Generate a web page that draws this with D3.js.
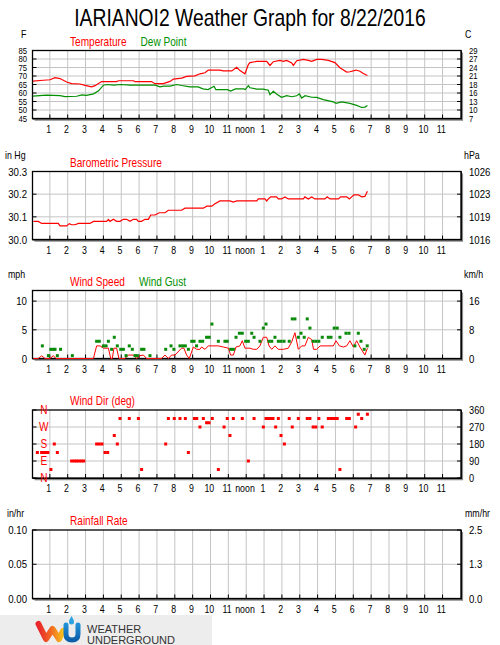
<!DOCTYPE html>
<html><head><meta charset="utf-8">
<script src="https://cdn.jsdelivr.net/npm/d3@7"></script>
<style>body{margin:0;background:#fff}svg{display:block}</style>
</head><body>
<script>
// ---------------- DATA ----------------
const title = "IARIANOI2 Weather Graph for 8/22/2016";
const hourTicks = [1,2,3,4,5,6,7,8,9,10,11,12,13,14,15,16,17,18,19,20,21,22,23];
const hourLabels = ["1","2","3","4","5","6","7","8","9","10","11","noon","1","2","3","4","5","6","7","8","9","10","11"];

const tempF = [85,80,75,70,65,60,55,50,45];
const tempC = ["29","27","24","21","18","16","13","10","7"];
const tempTimes = [0.05,0.63,1.01,1.29,1.57,1.94,2.22,2.69,2.97,3.34,3.53,3.9,4.74,4.84,5.68,5.77,6.7,6.89,7.36,7.73,7.92,8.38,8.66,9.13,9.41,9.69,9.88,10.53,10.72,11.19,11.47,11.65,11.93,12.12,12.21,12.59,13.15,13.33,13.52,13.89,14.08,14.27,14.55,14.64,14.83,15.2,15.48,15.67,15.95,16.23,16.6,16.97,17.25,17.63,17.81,18.15,18.37,18.56,18.79];
const tempVals  = [67,67.5,67.8,69,68.5,66.5,65.5,65.3,64.5,63.6,64.3,66.7,66.7,67.2,67.2,66.7,66.7,65.5,65.5,66.8,68.2,68.8,69.8,70.1,71.3,71.9,73.5,73.5,73,73,75.1,73.2,71.3,76.7,77.9,78.6,78.6,76.2,78.4,79.2,78.6,79.2,77.7,76.2,79.0,79.8,79.2,78.6,79.8,79.8,79.2,77.9,74.9,72.3,72.5,73.5,72.8,71.5,70.3];
const dewTimes = [0.05,0.8,1.57,1.85,2.5,2.8,3.05,3.45,3.73,4.0,4.2,4.58,4.95,5.5,6.9,7.17,7.37,7.74,8.1,8.38,8.85,9.3,9.58,9.86,10.2,10.3,10.95,11.13,11.4,11.86,11.95,12.12,12.21,12.59,12.96,13.24,13.33,13.52,13.7,13.98,14.27,14.55,14.83,14.98,15.11,15.3,15.67,15.95,16.32,16.88,17.03,17.35,17.81,18.19,18.47,18.66,18.79];
const dewVals  = [58.2,58.8,58.4,57.9,58.1,58.9,58.6,59.5,61.3,64.6,65.0,64.6,65.0,64.6,64.6,63.6,64.0,64.0,65.0,64.4,63.6,63.6,62.4,62.0,64.0,62.0,62.0,61.1,62.4,62.4,62.0,64.3,63.1,62.3,62.3,61.6,59.0,61.0,59.4,57.5,58.4,57.8,58.4,59.5,57.0,58.4,57.5,57.4,56.1,54.8,53.9,54.8,53.9,52.7,51.5,51.7,52.6];

const baroTicks = [30.3,30.2,30.1,30.0];
const baroLabels = ["30.3","30.2","30.1","30.0"];
const hpaLabels = ["1026","1023","1019","1016"];
const baroTimes = [0.08,0.355,0.54,1.47,1.57,1.94,2.09,2.22,2.41,2.6,3.25,3.44,4.18,4.28,4.37,4.56,4.74,4.93,5.12,5.3,5.49,5.68,5.86,5.96,6.14,6.33,6.52,6.65,6.89,7.13,7.45,7.64,8.38,8.57,9.6,9.79,10.07,10.25,10.53,11.09,11.28,11.47,12.12,12.59,12.68,13.05,13.15,13.24,13.37,13.7,13.8,13.98,14.17,14.36,15.11,15.2,15.29,15.48,15.67,15.85,16.41,16.54,16.69,17.16,17.29,17.63,17.78,17.91,18.04,18.28,18.47,18.65,18.79];
const baroVals  = [30.08,30.08,30.071,30.071,30.06,30.06,30.07,30.065,30.065,30.071,30.071,30.08,30.08,30.089,30.08,30.089,30.08,30.08,30.089,30.089,30.08,30.089,30.089,30.08,30.08,30.089,30.089,30.108,30.108,30.118,30.118,30.129,30.129,30.138,30.138,30.147,30.147,30.158,30.17,30.17,30.165,30.17,30.17,30.17,30.179,30.179,30.17,30.179,30.188,30.188,30.179,30.179,30.188,30.179,30.179,30.179,30.188,30.179,30.188,30.179,30.179,30.188,30.179,30.179,30.188,30.188,30.179,30.188,30.197,30.197,30.188,30.19,30.213];

const windTicks = [10,5,0];
const windLabels = ["10","5","0"];
const kmhLabels = ["16","8","0"];
const speedTimes = [0.08,0.355,0.54,0.73,1.01,1.2,1.34,3.44,3.62,3.81,4.0,4.28,4.41,4.5,4.59,4.74,4.87,5.21,5.39,5.68,5.86,6.05,6.24,6.42,7.26,7.45,7.64,7.82,8.01,8.38,8.51,8.66,8.81,9.04,9.22,9.41,9.5,9.69,9.88,10.44,10.72,11.0,11.13,11.28,11.43,11.65,11.78,11.93,12.21,12.4,12.59,12.77,12.96,13.15,13.28,13.43,13.61,13.8,14.08,14.36,14.55,14.73,14.92,15.11,15.29,15.48,15.67,15.77,15.95,16.14,16.88,17.03,17.22,17.44,17.63,17.81,18.0,18.19,18.37,18.65,18.79];
const speedVals  = [0,0,0.47,0,0,0.5,0,0,2.2,2.2,1.8,1.8,0,0,1.8,1.8,0,0,0.6,0.6,0,0.5,0.6,0,0,0.6,0,0.6,0.6,1.8,1.8,0.6,0,2.0,1.6,1.6,2.0,1.6,2.2,2.2,2.0,1.8,0.6,0.6,2.0,2.2,3.1,1.8,1.8,1.6,1.6,2.2,3.7,3.7,2.2,1.6,2.2,1.6,1.6,1.8,2.9,4.5,1.6,2.2,2.2,3.7,3.3,1.6,1.6,2.2,2.2,3.1,2.2,2.0,2.2,3.1,2.0,3.1,2.0,0.6,1.8];
const gustTimes = [0.58,0.92,1.05,1.2,1.29,1.42,1.6,2.26,3.62,3.77,4.0,4.15,4.28,4.46,4.61,4.78,4.97,5.12,5.27,5.45,5.62,5.77,5.9,6.14,6.27,6.61,7.49,7.79,7.95,8.29,8.44,8.59,8.76,8.95,9.08,9.22,9.41,9.56,9.78,9.93,10.08,10.44,10.81,10.94,11.13,11.28,11.43,11.62,11.78,11.97,12.12,12.31,12.44,12.77,12.96,13.11,13.28,13.43,13.61,13.8,13.95,14.12,14.41,14.58,14.73,14.92,15.07,15.25,15.42,15.57,15.75,15.9,16.07,16.26,16.6,16.75,16.93,17.1,17.25,17.59,17.76,18.09,18.28,18.43,18.61,18.78];
const gustVals  = [2.2,0.5,1.6,1.6,1.6,0.5,1.6,0.5,3.0,3.0,2.2,2.2,3.0,1.6,3.7,2.2,1.6,1.6,0.5,2.2,1.6,0.5,0.5,1.6,1.6,0.5,1.6,2.2,1.6,2.2,2.2,2.2,1.6,3.0,3.0,2.2,3.0,3.0,3.7,3.7,6.0,3.0,3.0,3.0,1.6,1.6,3.7,4.4,4.4,3.0,3.0,4.4,3.7,3.0,5.3,6.0,3.0,3.0,3.7,3.0,3.0,3.0,3.0,6.9,6.9,3.7,4.4,3.7,6.9,5.3,3.0,3.0,3.0,3.7,3.7,3.7,5.3,5.3,3.7,4.4,4.4,2.2,4.4,3.0,1.6,2.2];

const dirTicks = [360,270,180,90,0];
const dirLabels = ["360","270","180","90","0"];
const compassLabels = ["N","W","S","E","N"];
const dirTimes = [0.3,0.54,0.65,0.77,0.89,1.06,1.25,1.42,2.22,2.37,2.5,2.63,2.77,2.9,3.62,3.77,3.92,4.09,4.24,4.61,4.78,4.93,5.45,5.96,6.14,7.49,7.64,7.97,8.29,8.59,8.76,9.1,9.23,9.41,9.6,9.78,9.92,10.1,10.44,10.76,10.94,11.09,11.28,11.78,12.12,12.44,12.96,13.11,13.24,13.37,13.5,13.65,13.8,13.95,14.14,14.41,14.58,14.92,15.42,15.57,15.75,15.9,16.07,16.26,16.6,16.75,16.88,16.99,17.1,17.25,17.63,17.78,18.13,18.28,18.47,18.79];
const dirVals  = [135,135,135,135,135,45,180,135,90,90,90,90,90,90,180,180,180,135,135,225,180,315,315,315,45,180,315,315,315,315,135,315,315,270,315,292.5,292.5,315,45,270,315,225,315,315,90,315,270,315,315,315,315,270,315,225,180,315,270,315,315,315,270,270,315,270,315,315,315,315,315,45,315,315,270,337.5,315,337.5];

const rainTicks = [0.10,0.05,0.00];
const rainLabels = ["0.10","0.05","0.00"];
const mmLabels = ["2.5","1.3","0.0"];

// ---------------- DRAW ----------------
const FONT = "Liberation Sans, Arial, sans-serif";
const SX = 0.84;
const RED = "#ff0000", GREEN = "#009000", GUST = "#0a8a0a";
const svg = d3.select("body").append("svg").attr("width",500).attr("height",645);

const x = d3.scaleLinear().domain([0,24]).range([32,460.4]);
const L = 32.5, R = 461;

function txt(g, px, py, s, o={}) {
  return g.append("text")
    .attr("transform", `translate(${px},${py}) scale(${o.sx||SX},1)`)
    .attr("text-anchor", o.anchor||"start")
    .attr("dy", o.dy||0)
    .attr("font-family", FONT)
    .attr("font-size", o.size||10)
    .attr("fill", o.fill||"#000")
    .text(s);
}

function panel(cfg) {
  const g = svg.append("g");
  const y = d3.scaleLinear().domain(cfg.domain).range([cfg.B, cfg.T]);
  hourTicks.forEach(h => g.append("line").attr("x1",x(h)).attr("x2",x(h)).attr("y1",cfg.T).attr("y2",cfg.B)
      .attr("stroke","#c4c4c4").attr("stroke-width",1));
  cfg.grid.forEach(v => g.append("line").attr("x1",L).attr("x2",R).attr("y1",y(v)).attr("y2",y(v))
      .attr("stroke","#c4c4c4").attr("stroke-width",1));
  g.append("line").attr("x1",R+1.5).attr("x2",R+1.5).attr("y1",cfg.T+2).attr("y2",cfg.B+2).attr("stroke","#8a8a8a").attr("stroke-width",1.2);
  g.append("line").attr("x1",L+2).attr("x2",R+2).attr("y1",cfg.B+1.6).attr("y2",cfg.B+1.6).attr("stroke","#8a8a8a").attr("stroke-width",1.2);
  g.append("rect").attr("x",L).attr("y",cfg.T).attr("width",R-L).attr("height",cfg.B-cfg.T)
      .attr("fill","none").attr("stroke","#000").attr("stroke-width",1.3);
  g.append("line").attr("x1",R+0.4).attr("x2",R+0.4).attr("y1",cfg.T).attr("y2",cfg.B+0.8).attr("stroke","#000").attr("stroke-width",1);
  g.append("line").attr("x1",L).attr("x2",R+0.8).attr("y1",cfg.B+0.5).attr("y2",cfg.B+0.5).attr("stroke","#000").attr("stroke-width",1);
  hourTicks.forEach(h => g.append("line").attr("x1",x(h)).attr("x2",x(h)).attr("y1",cfg.B).attr("y2",cfg.B-4).attr("stroke","#000"));
  cfg.ticks.forEach(v => {
    g.append("line").attr("x1",L).attr("x2",L+4).attr("y1",y(v)).attr("y2",y(v)).attr("stroke","#000");
    g.append("line").attr("x1",R).attr("x2",R-4).attr("y1",y(v)).attr("y2",y(v)).attr("stroke","#000");
  });
  if (cfg.leftLabels) cfg.ticks.forEach((v,i) => txt(g, 27, y(v), cfg.leftLabels[i], {anchor:"end", dy:"0.36em", size:cfg.fs||10.5}));
  cfg.ticks.forEach((v,i) => txt(g, 469, y(v), cfg.rightLabels[i], {dy:"0.36em", size:cfg.fs||10.5}));
  hourTicks.forEach((h,i) => txt(g, x(h)-1.2, cfg.B+14, hourLabels[i], {anchor:"middle", size:10.5}));
  if (cfg.unitL) txt(g, cfg.unitLx, cfg.T-13, cfg.unitL, {size:10.5});
  if (cfg.unitR) txt(g, cfg.unitRx, cfg.T-13, cfg.unitR, {size:10.5});
  const lx = 70;
  cfg.legend.forEach(([s,c,dx]) => { txt(g, lx+(dx||0), cfg.T-5, s, {size:12, fill:c}); });
  return {g,y};
}

txt(svg, 250, 26, title, {anchor:"middle", size:23, sx:0.84});

// Panel 1
let p = panel({T:50.5,B:118.5,domain:[45,85],ticks:tempF,grid:[50,55,60,65,70,75,80],
  leftLabels:tempF.map(String), rightLabels:tempC, unitL:"F", unitLx:21, unitR:"C", unitRx:465, fs:9.2,
  legend:[["Temperature",RED,0],["Dew Point",GREEN,70.5]]});
const line1 = d3.line().x(d=>x(d[0])).y(d=>p.y(d[1]));
p.g.append("path").attr("d",line1(d3.zip(tempTimes,tempVals))).attr("fill","none").attr("stroke",RED).attr("stroke-width",1.2);
p.g.append("path").attr("d",line1(d3.zip(dewTimes,dewVals))).attr("fill","none").attr("stroke",GREEN).attr("stroke-width",1.2);

// Panel 2
p = panel({T:171.5,B:239.5,domain:[30.0,30.3],ticks:baroTicks,grid:[30.1,30.2],
  leftLabels:baroLabels, rightLabels:hpaLabels, unitL:"in Hg", unitLx:5, unitR:"hPa", unitRx:464, fs:11.5,
  legend:[["Barometric Pressure",RED,0]]});
const line2 = d3.line().x(d=>x(d[0])).y(d=>p.y(d[1]));
p.g.append("path").attr("d",line2(d3.zip(baroTimes,baroVals))).attr("fill","none").attr("stroke",RED).attr("stroke-width",1.2);

// Panel 3
p = panel({T:290.5,B:358.5,domain:[0,11.85],ticks:windTicks,grid:[5,10],
  leftLabels:windLabels, rightLabels:kmhLabels, unitL:"mph", unitLx:8, unitR:"km/h", unitRx:464, fs:11.5,
  legend:[["Wind Speed",RED,0],["Wind Gust",GREEN,69]]});
const line3 = d3.line().x(d=>x(d[0])).y(d=>p.y(d[1]));
p.g.append("path").attr("d",line3(d3.zip(speedTimes,speedVals))).attr("fill","none").attr("stroke",RED).attr("stroke-width",1);
p.g.selectAll(null).data(d3.zip(gustTimes,gustVals)).join("rect")
  .attr("x",d=>x(d[0])-1.5).attr("y",d=>p.y(d[1])-1.5).attr("width",3).attr("height",3).attr("fill",GUST);

// Panel 4
p = panel({T:410,B:478,domain:[0,360],ticks:dirTicks,grid:[90,180,270],
  leftLabels:null, rightLabels:dirLabels, fs:11,
  legend:[["Wind Dir (deg)",RED,0]]});
dirTicks.forEach((v,i) => txt(p.g, 43.8, p.y(v), compassLabels[i], {anchor:"middle", dy:"0.36em", size:12, fill:RED}));
p.g.selectAll(null).data(d3.zip(dirTimes,dirVals)).join("rect")
  .attr("x",d=>x(d[0])-1.5).attr("y",d=>p.y(d[1])-1.5).attr("width",3).attr("height",3).attr("fill",RED);

// Panel 5
p = panel({T:530,B:598.5,domain:[0,0.1],ticks:rainTicks,grid:[0.05],
  leftLabels:rainLabels, rightLabels:mmLabels, unitL:"in/hr", unitLx:7, unitR:"mm/hr", unitRx:465, fs:11.5,
  legend:[["Rainfall Rate",RED,0]]});

// Logo
const lg = svg.append("g");
lg.append("rect").attr("x",0).attr("y",615).attr("width",212).attr("height",30).attr("fill","#ededed");
const defs = svg.append("defs");
const gr = defs.append("linearGradient").attr("id","wg").attr("x1","0").attr("x2","1").attr("y1","0").attr("y2","0");
gr.append("stop").attr("offset","0").attr("stop-color","#e8262b");
gr.append("stop").attr("offset","0.55").attr("stop-color","#f36f21");
gr.append("stop").attr("offset","1").attr("stop-color","#f9c21b");
const gb = defs.append("linearGradient").attr("id","ub").attr("x1","0").attr("x2","0").attr("y1","0").attr("y2","1");
gb.append("stop").attr("offset","0").attr("stop-color","#1f8fd6");
gb.append("stop").attr("offset","1").attr("stop-color","#0e5fa8");
lg.append("path").attr("d","M38.5,624 L46,639 L52.5,629 L59,639 L63,631")
  .attr("fill","none").attr("stroke","url(#wg)").attr("stroke-width",6).attr("stroke-linejoin","round").attr("stroke-linecap","round");
lg.append("path").attr("d","M66,625 L66,634 Q66,640 72,640 Q78,640 78,634 L78,625")
  .attr("fill","none").attr("stroke","url(#ub)").attr("stroke-width",5).attr("stroke-linecap","round");
lg.append("path").attr("d","M71.5,616 Q74,620 74,622 A2.5,2.5 0 0 1 69,622 Q69,620 71.5,616 Z").attr("fill","#2aa3e0");
lg.append("text").attr("x",87).attr("y",632.5).attr("font-family",FONT).attr("font-size",11).attr("font-weight",500).attr("fill","#333").text("WEATHER");
lg.append("text").attr("x",87).attr("y",643.5).attr("font-family",FONT).attr("font-size",11).attr("font-weight",500).attr("fill","#333").text("UNDERGROUND");
</script>
</body></html>
